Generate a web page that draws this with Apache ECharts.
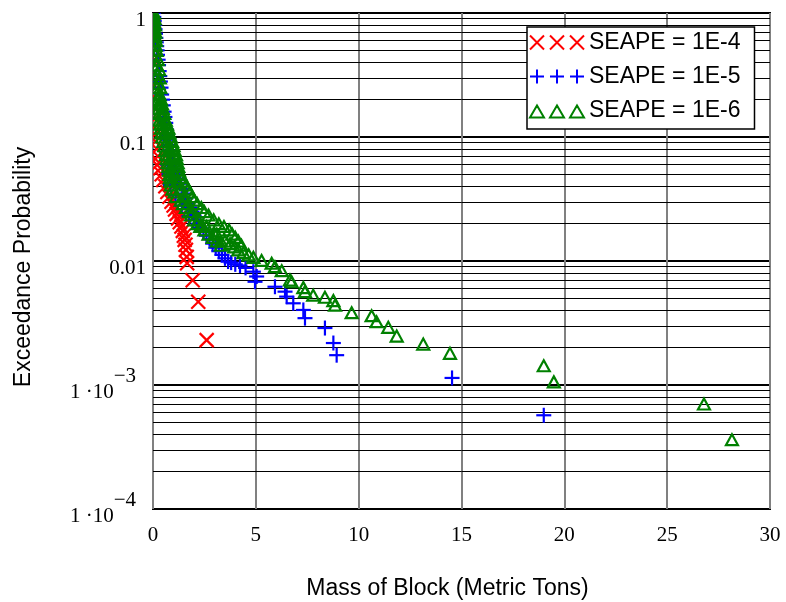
<!DOCTYPE html>
<html>
<head>
<meta charset="utf-8">
<script src="https://cdn.jsdelivr.net/npm/echarts@6/dist/echarts.min.js"></script>
<style>
  html, body { margin: 0; padding: 0; background: #fff; }
  #main { width: 786px; height: 602px; }
</style>
</head>
<body>
<div id="main"></div>
<script>
// [mass (metric tons), exceedance probability]
var seape4 = [[0.02,1],[0.03,0.75],[0.04,0.55],[0.05,0.42],[0.05,0.33],[0.06,0.26],[0.06,0.21],[0.07,0.17],
  [0.07,0.14],[0.08,0.12],[0.09,0.105],[0.12,0.092],[0.18,0.08],[0.24,0.07],[0.3,0.062],[0.36,0.056],[0.42,0.05],
  [0.5,0.045],[0.6,0.04],[0.7,0.036],[0.8,0.033],[0.9,0.03],[1.0,0.028],[1.07,0.026],[1.15,0.024],[1.22,0.022],
  [1.3,0.0205],[1.38,0.019],[1.45,0.0175],[1.5,0.016],[1.54,0.0148],[1.58,0.0135],[1.6,0.0123],[1.64,0.0108],
  [1.66,0.0096],[1.93,0.007],[2.2,0.0047],[2.61,0.0023]];

var seape5 = [[0.02,1],[0.04,0.93],[0.06,0.86],[0.08,0.8],[0.1,0.74],[0.12,0.68],[0.14,0.63],[0.16,0.58],
  [0.18,0.54],[0.2,0.5],[0.22,0.46],[0.25,0.42],[0.27,0.38],[0.3,0.34],[0.33,0.31],[0.36,0.28],[0.39,0.25],
  [0.42,0.22],[0.46,0.2],[0.5,0.18],[0.54,0.16],[0.58,0.145],[0.62,0.13],[0.66,0.115],[0.7,0.104],[0.75,0.095],
  [0.8,0.086],[0.86,0.078],[0.92,0.071],[0.98,0.064],[1.04,0.058],[1.1,0.054],[1.17,0.05],[1.25,0.046],
  [1.33,0.042],[1.42,0.038],[1.5,0.035],[1.6,0.032],[1.7,0.029],[1.8,0.027],[1.9,0.025],[2.0,0.0232],
  [2.1,0.0215],[2.2,0.02],[2.3,0.0185],[2.45,0.0172],[2.6,0.016],[2.75,0.015],[2.9,0.0138],[3.05,0.0128],
  [3.2,0.012],[3.35,0.0112],[3.5,0.0105],[3.65,0.0099],[3.8,0.0097],[4.0,0.0094],[4.23,0.0092],[4.5,0.0088],
  [4.88,0.0082],[5.04,0.0075],[4.96,0.0068],[5.93,0.0062],[6.42,0.00566],[6.5,0.00516],[6.82,0.00456],
  [7.31,0.00403],[7.39,0.00346],[8.36,0.00288],[8.77,0.00218],[8.93,0.00174],[14.54,0.00114],[19.0,0.00057],
  [0.7,0.06],[0.78,0.05],[0.85,0.041],[1.1,0.034],[1.4,0.028],[1.75,0.023]];

// dense band of the 1E-6 curve (left edge, right edge and middle readings)
var seape6Band = [[0.0,1],[0.05,1],[0.0,0.9],[0.08,0.9],[0.02,0.8],[0.1,0.8],[0.03,0.7],[0.12,0.7],[0.04,0.6],
  [0.15,0.6],[0.05,0.5],[0.18,0.5],[0.07,0.42],[0.24,0.42],[0.1,0.35],[0.3,0.35],[0.15,0.3],[0.33,0.3],
  [0.2,0.25],[0.36,0.25],[0.25,0.2],[0.4,0.2],[0.28,0.17],[0.48,0.17],[0.32,0.137],[0.62,0.137],[0.38,0.118],
  [0.75,0.118],[0.44,0.1],[0.87,0.1],[0.55,0.085],[1.0,0.085],[0.63,0.072],[1.12,0.072],[0.7,0.062],[1.2,0.062],
  [0.78,0.054],[1.26,0.054],[0.82,0.047],[1.42,0.047],[0.87,0.041],[1.6,0.041],[1.05,0.036],[1.8,0.036],
  [1.35,0.031],[2.0,0.031],[1.6,0.027],[2.35,0.027],[1.85,0.0235],[2.7,0.0235],[2.15,0.02],[3.2,0.02],
  [2.5,0.0178],[3.7,0.0178],[2.9,0.0155],[4.0,0.0155],[3.3,0.0134],[4.3,0.0134],
  [0.02,0.95],[0.05,0.85],[0.07,0.75],[0.09,0.65],[0.1,0.55],[0.12,0.46],[0.17,0.38],[0.22,0.32],[0.27,0.27],
  [0.32,0.22],[0.36,0.185],[0.42,0.155],[0.5,0.127],[0.6,0.108],[0.7,0.092],[0.85,0.078],[0.92,0.067],
  [1.05,0.05],[1.35,0.038],[1.7,0.029],[2.2,0.0215],[2.6,0.019],[3.0,0.0165],[3.3,0.0145],
  [0.26,0.185],[0.44,0.185],[0.3,0.155],[0.55,0.155],[0.35,0.127],[0.68,0.127],[0.4,0.108],[0.8,0.108],
  [0.5,0.092],[0.93,0.092],[0.6,0.078],[1.06,0.078],[0.66,0.067],[1.16,0.067],[0.74,0.058],[1.23,0.058],
  [0.8,0.05],[1.34,0.05],[0.85,0.044],[1.5,0.044],[0.95,0.038],[1.7,0.038],[1.12,0.033],[1.9,0.033],
  [1.45,0.029],[2.15,0.029],[1.75,0.025],[2.5,0.025],[2.0,0.0215],[2.95,0.0215],[2.3,0.019],[3.45,0.019],
  [2.7,0.0165],[3.85,0.0165],[3.1,0.0145],[4.15,0.0145]];

var seape6 = [[0.1,0.65],[0.13,0.55],[0.2,0.38],[0.3,0.22],[0.45,0.15],[0.6,0.11],[0.8,0.078],[1.0,0.058],
  [1.2,0.044],[1.5,0.033],[1.9,0.025],[2.4,0.0192],[3.1,0.0165],[3.5,0.0145],[3.75,0.0138],[3.95,0.013],
  [4.15,0.0123],[4.4,0.0117],[4.65,0.0112],[4.88,0.0107],[5.28,0.0101],[5.77,0.0096],[5.93,0.009],[6.26,0.00835],
  [6.66,0.00703],[6.74,0.0068],[7.31,0.0061],[7.39,0.00566],[7.79,0.0053],[8.36,0.0051],[8.77,0.0048],
  [8.85,0.0044],[9.66,0.00383],[10.63,0.00362],[10.87,0.00324],[11.44,0.00292],[11.85,0.00248],[13.14,0.00214],
  [14.44,0.0018],[19.0,0.00143],[19.49,0.00106],[26.79,0.000703],[28.15,0.000362]];

var seriesNames = ['SEAPE = 1E-4', 'SEAPE = 1E-5', 'SEAPE = 1E-6'];
var yDecades = [0.0001, 0.001, 0.01, 0.1, 1];
var yTickLabels = { '1': '1', '0.1': '0.1', '0.01': '0.01', '0.001': '-3', '0.0001': '-4' };
var minorSteps = [2, 3, 4, 5, 6, 7, 8, 9];

// minor gridlines at 2..9 in each decade
var minorLines = [];
yDecades.slice(0, 4).forEach(function (d) {
  minorSteps.forEach(function (m) {
    var v = d * m;
    minorLines.push({ coords: [[0, v], [30, v]] });
  });
});

var sans = 'Liberation Sans';
var serif = 'Liberation Serif';

// marker drawn with custom series so it is clipped to the plot like the original
function markerRender(kind, color) {
  return function (params, api) {
    var c = api.coord([api.value(0), api.value(1)]);
    var x = c[0], y = c[1];
    var st = { stroke: color, lineWidth: 2.2, fill: null };
    if (kind === 'x') {
      var h = 7;
      return { type: 'group', children: [
        { type: 'line', shape: { x1: x - h, y1: y - h, x2: x + h, y2: y + h }, style: st },
        { type: 'line', shape: { x1: x - h, y1: y + h, x2: x + h, y2: y - h }, style: st }
      ] };
    }
    if (kind === 'plus') {
      var k = 7.5;
      return { type: 'group', children: [
        { type: 'line', shape: { x1: x - k, y1: y, x2: x + k, y2: y }, style: st },
        { type: 'line', shape: { x1: x, y1: y - k, x2: x, y2: y + k }, style: st }
      ] };
    }
    return { type: 'polygon',
      shape: { points: [[x, y - 5.5], [x + 6, y + 5.5], [x - 6, y + 5.5]] },
      style: { stroke: color, lineWidth: 2.2, fill: null } };
  };
}

var myChart = echarts.init(document.getElementById('main'));
var option = {
  animation: false,
  backgroundColor: '#fff',
  grid: {
    left: 153, top: 13, right: 16, bottom: 93,
    show: true, borderColor: '#000', borderWidth: 2,
    outerBoundsMode: 'none'
  },
  legend: {
    left: 527, top: 27,
    orient: 'vertical',
    backgroundColor: '#fff',
    borderColor: '#000',
    borderWidth: 1.5,
    borderRadius: 0,
    padding: [4, 14, 7, 2],
    itemGap: 11,
    itemWidth: 54,
    itemHeight: 14,
    textStyle: { fontFamily: sans, fontSize: 23, color: '#000', lineHeight: 22 },
    data: [
      { name: seriesNames[0], icon: 'path://M0,0L14,14M14,0L0,14M20,0L34,14M34,0L20,14M40,0L54,14M54,0L40,14',
        itemStyle: { color: 'transparent', borderColor: '#ff0000', borderWidth: 2 } },
      { name: seriesNames[1], icon: 'path://M7,0L7,14M0,7L14,7M27,0L27,14M20,7L34,7M47,0L47,14M40,7L54,7',
        itemStyle: { color: 'transparent', borderColor: '#0000ff', borderWidth: 2 } },
      { name: seriesNames[2], icon: 'path://M7,2L14,14L0,14ZM27,2L34,14L20,14ZM47,2L54,14L40,14ZM0,0',
        itemStyle: { color: 'transparent', borderColor: '#008000', borderWidth: 2 } }
    ]
  },
  xAxis: {
    type: 'value',
    min: 0, max: 30, interval: 5,
    name: 'Mass of Block (Metric Tons)',
    nameLocation: 'middle',
    nameGap: 68,
    nameTextStyle: { fontFamily: sans, fontSize: 23, color: '#000', padding: [0, 28, 0, 0] },
    axisLine: { show: false },
    axisTick: { show: false },
    axisLabel: { fontFamily: serif, fontSize: 21, color: '#000', margin: 16 },
    splitLine: { show: true, lineStyle: { color: '#808080', width: 2 } }
  },
  yAxis: {
    type: 'log',
    logBase: 10,
    min: 0.0001, max: 1,
    name: 'Exceedance Probability',
    nameLocation: 'middle',
    nameGap: 118,
    nameTextStyle: { fontFamily: sans, fontSize: 23, color: '#000', padding: [0, 12, 0, 0] },
    axisLine: { show: false },
    axisTick: { show: false },
    axisLabel: {
      margin: 7,
      fontFamily: serif, fontSize: 21, color: '#000',
      formatter: function (v) {
        var key = String(+v.toPrecision(6));
        var t = yTickLabels[key];
        if (t === undefined) return '';
        if (t.charAt(0) === '-') return '{b|1 \u00b710}{e|\u2212' + t.slice(1) + '}';
        return '{n|' + t + '}';
      },
      rich: {
        n: { fontFamily: serif, fontSize: 21, color: '#000', padding: [14, 0, 0, 0] },
        b: { fontFamily: serif, fontSize: 21, color: '#000', padding: [14, 0, 0, 0] },
        e: { fontFamily: serif, fontSize: 21, color: '#000', padding: [0, 10, 18, 0] }
      }
    },
    splitLine: { show: true, lineStyle: { color: '#000', width: 2 } }
  },
  series: [
    {
      name: 'minor', type: 'lines', coordinateSystem: 'cartesian2d', z: 1, silent: true,
      lineStyle: { color: '#000', width: 1, opacity: 1, curveness: 0 },
      data: minorLines
    },
    {
      name: seriesNames[0], type: 'custom', z: 2, clip: true, data: seape4,
      encode: { x: 0, y: 1 },
      itemStyle: { color: '#ff0000' },
      renderItem: markerRender('x', '#ff0000')
    },
    {
      name: seriesNames[1], type: 'custom', z: 3, clip: true, data: seape5,
      encode: { x: 0, y: 1 },
      itemStyle: { color: '#0000ff' },
      renderItem: markerRender('plus', '#0000ff')
    },
    {
      name: seriesNames[2], type: 'custom', z: 4, clip: true, data: seape6Band.concat(seape6),
      encode: { x: 0, y: 1 },
      itemStyle: { color: '#008000' },
      renderItem: markerRender('tri', '#008000')
    }
  ]
};
myChart.setOption(option);
</script>
</body>
</html>
